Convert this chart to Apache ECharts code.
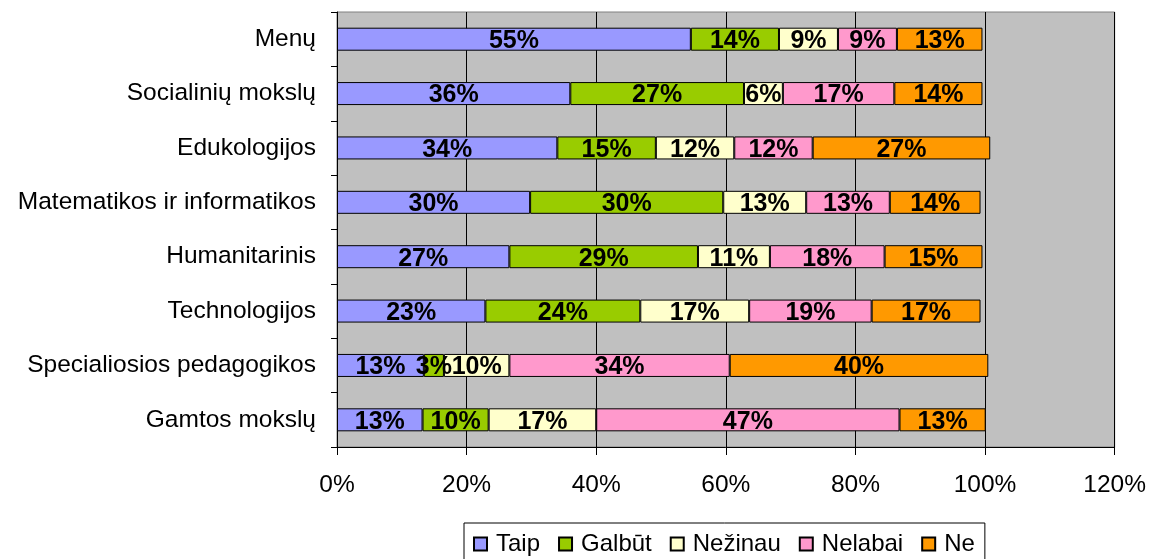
<!DOCTYPE html>
<html>
<head>
<meta charset="utf-8">
<script src="https://cdn.jsdelivr.net/npm/echarts@6/dist/echarts.min.js"></script>
<style>
  html, body { margin: 0; padding: 0; background: #fff; }
  #chart { width: 1149px; height: 559px; }
</style>
</head>
<body>
<div id="chart"></div>
<script>
// fakultetai, iš viršaus į apačią
const categories = [
  'Menų',
  'Socialinių mokslų',
  'Edukologijos',
  'Matematikos ir informatikos',
  'Humanitarinis',
  'Technologijos',
  'Specialiosios pedagogikos',
  'Gamtos mokslų'
];
const seriesNames = ['Taip', 'Galbūt', 'Nežinau', 'Nelabai', 'Ne'];
const colors = ['#9999FF', '#99CC00', '#FFFFCC', '#FF99CC', '#FF9900'];

// procentai, nuskaityti nuo paveikslo
const taip    = [54.6, 36.0, 34.0, 29.8, 26.6, 22.9, 13.4, 13.2];
const galbut  = [13.6, 26.8, 15.2, 29.8, 29.1, 23.9,  3.1, 10.2];
const nezinau = [ 9.1,  6.0, 12.1, 12.8, 11.1, 16.8, 10.1, 16.6];
const nelabai = [ 9.1, 17.2, 12.1, 12.9, 17.7, 18.9, 34.0, 46.8];
const ne      = [13.2, 13.6, 27.4, 14.0, 15.1, 16.8, 39.9, 13.3];

const xTicks = [0, 20, 40, 60, 80, 100, 120];

const font = 'Liberation Sans, Arial, sans-serif';
const values = [taip, galbut, nezinau, nelabai, ne];

const myChart = echarts.init(document.getElementById('chart'));
myChart.setOption({
  animation: false,
  textStyle: { fontFamily: font },
  grid: {
    left: 337,
    right: 34,
    top: 12,
    bottom: 112,
    show: true,
    backgroundColor: '#C0C0C0',
    borderColor: '#808080',
    borderWidth: 1
  },
  legend: {
    data: seriesNames,
    left: 464,
    top: 523,
    padding: [9, 10, 10, 9],
    itemWidth: 13,
    itemHeight: 13,
    itemGap: 18,
    icon: 'rect',
    backgroundColor: '#fff',
    borderColor: '#000',
    borderWidth: 1,
    textStyle: { fontSize: 24, color: '#000', fontFamily: font, padding: [0, 0, 0, 4] }
  },
  xAxis: {
    type: 'value',
    min: xTicks[0],
    max: xTicks[xTicks.length - 1],
    interval: xTicks[1] - xTicks[0],
    axisLine: { show: true, lineStyle: { color: '#000' } },
    axisTick: { show: true, length: 8, lineStyle: { color: '#000' } },
    splitLine: { show: true, lineStyle: { color: '#000', width: 1 } },
    axisLabel: {
      formatter: '{value}%',
      fontSize: 24.5,
      color: '#000',
      margin: 26,
      fontFamily: font
    }
  },
  yAxis: {
    type: 'category',
    data: categories,
    inverse: true,
    axisLine: { show: true, lineStyle: { color: '#000' } },
    axisTick: { show: true, length: 6, alignWithLabel: false, lineStyle: { color: '#000' } },
    axisLabel: { fontSize: 24.5, color: '#000', margin: 21, fontFamily: font }
  },
  series: seriesNames.map((name, i) => ({
    name: name,
    type: 'bar',
    stack: 'total',
    barWidth: 23,
    data: values[i],
    itemStyle: {
      color: colors[i],
      borderColor: '#000',
      borderWidth: 1
    },
    label: {
      show: true,
      position: 'inside',
      formatter: (p) => Math.round(p.value) + '%',
      fontSize: 25,
      fontWeight: 'bold',
      color: '#000',
      fontFamily: font,
      offset: [0, 2]
    }
  }))
});
</script>
</body>
</html>
